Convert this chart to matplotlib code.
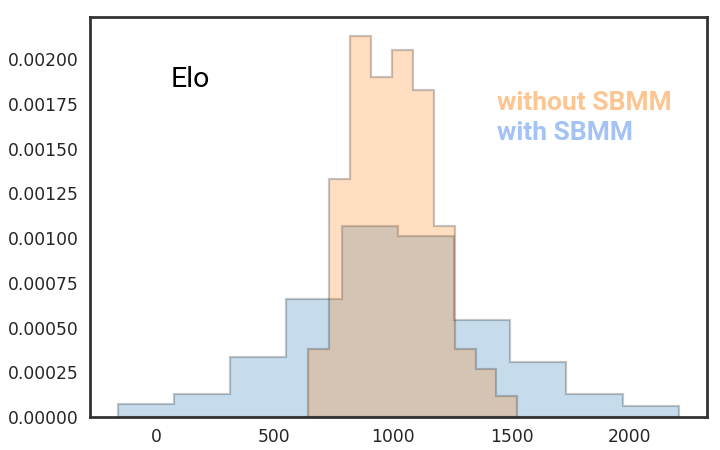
import numpy as np
import matplotlib
matplotlib.use("Agg")
import matplotlib.pyplot as plt

# bin edges and densities
with_edges = np.linspace(-160, 2205, 11)
with_density = [0.0000743, 0.000130, 0.000333, 0.000659, 0.001065,
                0.001013, 0.000544, 0.000305, 0.000130, 0.0000594]
without_edges = np.linspace(643, 1525, 11)
without_density = [0.000382, 0.001333, 0.002132, 0.001899, 0.002054,
                   0.001827, 0.001069, 0.000382, 0.000268, 0.000115]
xticks = [0, 500, 1000, 1500, 2000]
yticks = np.arange(0, 0.00201, 0.00025)

fig = plt.figure(figsize=(7.2, 4.5), dpi=100)
ax = fig.add_axes([0.125, 0.0733, 0.857, 0.889])


def draw(edges, dens, rgb):
    centers = (edges[:-1] + edges[1:]) / 2
    ax.hist(centers, bins=edges, weights=dens, histtype="stepfilled",
            facecolor=(*rgb, 0.25), edgecolor=(0, 0, 0, 0.22), lw=1.6)


draw(with_edges, with_density, (0.122, 0.467, 0.706))
draw(without_edges, without_density, (1.0, 0.498, 0.055))

ax.set_xlim(-278, 2325)
ax.set_ylim(0, 0.002236)
ax.set_xticks(xticks)
ax.set_yticks(yticks)
ax.set_yticklabels([f"{v:.5f}" for v in yticks])
ax.tick_params(length=0, labelsize=12.3, labelcolor="#262626", pad=8)
for s in ax.spines.values():
    s.set_color("#333333")
    s.set_linewidth(2)

ax.text(0.131, 0.824, "Elo", transform=ax.transAxes, fontsize=20.5,
        family="Roboto", color="black")
ax.text(0.66, 0.7675, "without SBMM", transform=ax.transAxes, fontsize=19,
        family="Roboto", weight="bold", color="#fcc592")
ax.text(0.66, 0.6925, "with SBMM", transform=ax.transAxes, fontsize=19,
        family="Roboto", weight="bold", color="#a4c2f4")

fig.savefig("out.png", dpi=100)
